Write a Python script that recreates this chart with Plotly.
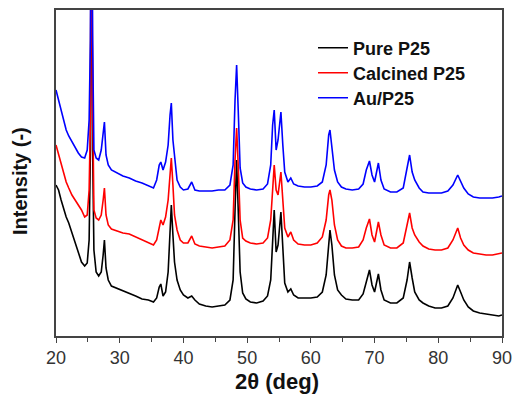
import plotly.graph_objects as go

# 2-theta positions (deg) shared by all three patterns
two_theta = [20.0, 20.4, 20.8, 21.2, 21.6, 22.0, 22.5, 23.0, 23.5, 24.0, 24.5, 24.9,
             25.2, 25.4, 25.55, 25.75, 25.95, 26.3, 26.7, 27.1, 27.4, 27.6, 27.85, 28.2,
             28.7, 29.5, 30.5, 31.5, 32.5, 33.5, 34.5, 35.3, 35.8, 36.2, 36.45, 36.8,
             37.2, 37.6, 37.9, 38.1, 38.35, 38.6, 39.0, 39.5, 40.0, 40.7, 41.3, 41.8,
             42.5, 43.5, 44.5, 45.5, 46.5, 47.3, 47.8, 48.1, 48.35, 48.6, 48.9, 49.3,
             49.8, 50.5, 51.5, 52.5, 53.2, 53.7, 54.0, 54.25, 54.55, 54.85, 55.3, 55.6,
             55.9, 56.4, 56.85, 57.3, 58.0, 59.0, 60.0, 61.0, 61.8, 62.4, 62.8, 63.0,
             63.3, 63.7, 64.2, 64.8, 65.5, 66.5, 67.5, 68.2, 68.7, 69.2, 69.6, 70.0,
             70.6, 71.0, 71.5, 72.5, 73.5, 74.5, 75.1, 75.5, 75.9, 76.3, 77.0, 77.6,
             78.5, 79.5, 80.5, 81.5, 82.3, 83.05, 83.5, 84.0, 84.7, 85.5, 86.5, 87.5,
             88.5, 89.5, 90.0]

pure_p25 = [151, 146, 136, 126, 119, 113, 103, 93, 82, 74, 70, 73,
            96, 186, 536, 186, 86, 64, 60, 64, 81, 96, 68, 56,
            50, 48, 45, 43, 40, 37, 36, 34, 38, 49, 52, 40,
            44, 64, 106, 131, 101, 74, 56, 46, 41, 38, 40, 36,
            32, 30, 29, 30, 31, 36, 56, 126, 176, 126, 64, 43,
            37, 34, 33, 35, 40, 56, 96, 126, 84, 91, 124, 81,
            53, 44, 47, 41, 38, 38, 38, 39, 44, 61, 96, 106,
            91, 61, 46, 41, 37, 36, 36, 42, 54, 66, 51, 44,
            62, 46, 36, 33, 33, 38, 56, 74, 58, 44, 36, 33,
            30, 28, 28, 30, 38, 51, 44, 36, 29, 25, 23, 22,
            21, 20, 21]

calcined_p25 = [191, 181, 173, 164, 154, 148, 141, 136, 131, 126, 119, 121,
                146, 216, 536, 236, 126, 118, 116, 121, 136, 148, 121, 111,
                107, 105, 103, 102, 99, 96, 93, 91, 96, 111, 116, 111,
                119, 136, 166, 178, 151, 121, 106, 96, 93, 93, 100, 92,
                90, 89, 88, 89, 90, 96, 116, 176, 208, 171, 116, 98,
                95, 93, 92, 93, 98, 116, 151, 171, 146, 141, 164, 131,
                108, 99, 104, 96, 92, 91, 91, 93, 99, 116, 141, 146,
                136, 111, 96, 90, 88, 88, 89, 96, 108, 117, 101, 94,
                114, 101, 91, 88, 88, 93, 111, 123, 108, 101, 94, 90,
                87, 86, 86, 88, 96, 108, 98, 91, 86, 83, 82, 81,
                81, 82, 83]

au_p25 = [246, 236, 224, 214, 206, 200, 194, 188, 183, 179, 178, 186,
          216, 296, 536, 296, 186, 178, 176, 186, 201, 214, 181, 171,
          166, 163, 160, 158, 155, 153, 150, 148, 156, 171, 174, 166,
          174, 191, 221, 233, 196, 181, 156, 149, 146, 147, 154, 146,
          145, 145, 145, 146, 146, 151, 171, 236, 271, 226, 168, 153,
          149, 147, 146, 147, 152, 171, 211, 226, 186, 196, 224, 191,
          164, 154, 158, 152, 150, 149, 149, 150, 154, 171, 201, 206,
          191, 166, 154, 149, 147, 146, 147, 152, 166, 175, 161, 154,
          173, 156, 147, 144, 144, 148, 168, 181, 164, 156, 148, 144,
          143, 143, 143, 145, 151, 161, 154, 148, 142, 139, 138, 138,
          138, 139, 140]

series_names = ["Pure P25", "Calcined P25", "Au/P25"]
series_values = [pure_p25, calcined_p25, au_p25]
series_colors = ["#000000", "#ff0000", "#0000ff"]
legend_ids = ["legend", "legend2", "legend3"]
x_tick_vals = [20, 30, 40, 50, 60, 70, 80, 90]

fig = go.Figure()
for name, vals, col, lid in zip(series_names, series_values, series_colors, legend_ids):
    fig.add_trace(go.Scatter(x=two_theta, y=vals, mode="lines", name=name,
                             line=dict(color=col, width=1.6), legend=lid))

leg_font = dict(family="Liberation Sans, Arial, sans-serif", size=18, color="#111111",
                weight="bold")
leg_common = dict(xanchor="left", yanchor="middle",
                  bgcolor="rgba(0,0,0,0)", borderwidth=0, font=leg_font)
leg_y = [48, 73, 98]
layout_legends = {}
for lid, yy in zip(legend_ids, leg_y):
    layout_legends[lid] = dict(x=(313 - 56) / 446, y=(336 - yy) / 326, **leg_common)

axis_line = "#444444"
fig.update_layout(
    width=514, height=397,
    showlegend=True,
    margin=dict(l=56, r=12, t=10, b=61, autoexpand=False),
    paper_bgcolor="white", plot_bgcolor="white",
    font=dict(family="Liberation Sans, Arial, sans-serif", color="#222222"),
    **layout_legends,
    xaxis=dict(range=[20, 90], tickvals=x_tick_vals, ticks="outside", ticklen=5,
               tickwidth=1, tickcolor=axis_line,
               minor=dict(dtick=5, tick0=20, ticks="outside", ticklen=4, tickcolor=axis_line),
               showline=True, linecolor=axis_line, linewidth=1.5, mirror=True,
               showgrid=False, zeroline=False,
               tickfont=dict(size=18, color="#333333")),
    yaxis=dict(range=[0, 326], showticklabels=False, ticks="",
               showline=True, linecolor=axis_line, linewidth=1.5, mirror=True,
               showgrid=False, zeroline=False),
    annotations=[
        dict(text="<b>Intensity (-)</b>", textangle=-90, xref="paper", yref="paper",
             x=0.0, xshift=-36, y=0.5, yshift=-8, showarrow=False,
             font=dict(size=20, color="#111111"), xanchor="center", yanchor="middle"),
        dict(text="<b>2θ (deg)</b>", xref="paper", yref="paper",
             x=(277 - 56) / 446, y=0.0, yshift=-31, showarrow=False,
             font=dict(size=22, color="#111111"), xanchor="center", yanchor="top"),
    ],
)

fig.write_html("out.html")
